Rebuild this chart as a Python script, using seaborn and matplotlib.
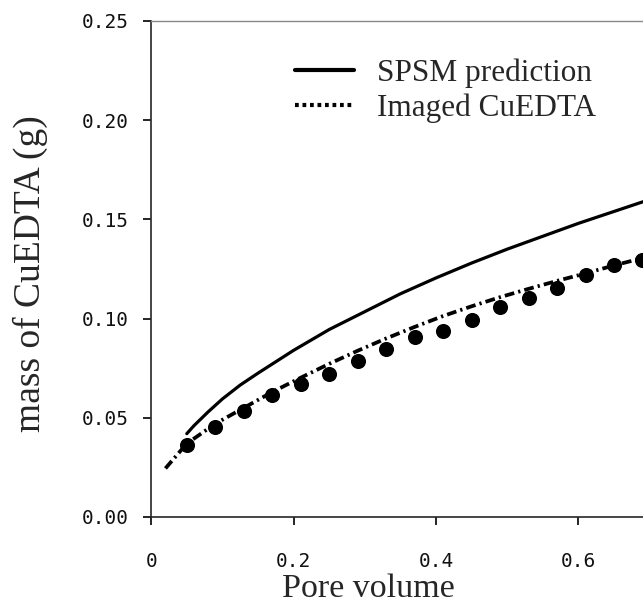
import matplotlib
matplotlib.use("Agg")
import matplotlib.pyplot as plt
import seaborn as sns
import pandas as pd

# ---- data ----
spsm_x = [0.05, 0.06, 0.08, 0.10, 0.125, 0.15, 0.20, 0.25, 0.30, 0.35, 0.40, 0.45, 0.50, 0.55, 0.60, 0.65, 0.70]
spsm_y = [0.042, 0.046, 0.053, 0.0595, 0.0665, 0.0725, 0.0840, 0.0945, 0.1035, 0.1125, 0.1205, 0.128, 0.1350, 0.1415, 0.148, 0.1540, 0.160]

imaged_x = [0.02, 0.05, 0.09, 0.13, 0.17, 0.21, 0.25, 0.29, 0.33, 0.37, 0.41, 0.45, 0.49, 0.53, 0.57, 0.61, 0.65, 0.69]
imaged_y = [0.0245, 0.037, 0.047, 0.055, 0.0630, 0.0702, 0.0772, 0.0838, 0.0900, 0.0958, 0.1013, 0.1062, 0.1108, 0.1150, 0.1190, 0.1228, 0.1268, 0.1305]

meas_x = [0.05, 0.09, 0.13, 0.17, 0.21, 0.25, 0.29, 0.33, 0.37, 0.41, 0.45, 0.49, 0.53, 0.57, 0.61, 0.65, 0.69]
meas_y = [0.0363, 0.0455, 0.0535, 0.0614, 0.0668, 0.0723, 0.0787, 0.0846, 0.0905, 0.0938, 0.0995, 0.1056, 0.1106, 0.1155, 0.1219, 0.1269, 0.1297]

x_ticks = [0, 0.2, 0.4, 0.6]
x_ticklabels = ["0", "0.2", "0.4", "0.6"]
y_ticks = [0.00, 0.05, 0.10, 0.15, 0.20, 0.25]
y_ticklabels = ["0.00", "0.05", "0.10", "0.15", "0.20", "0.25"]

sns.set_style("ticks")
plt.rcParams["font.family"] = ["DejaVu Sans"]

fig = plt.figure(figsize=(6.43, 6.08), dpi=100)
left = 151.2 / 643
bottom = 1 - 517 / 608
top = 1 - 21 / 608
ax = fig.add_axes([left, bottom, 1 - left, top - bottom])

df_spsm = pd.DataFrame({"x": spsm_x, "y": spsm_y})
df_img = pd.DataFrame({"x": imaged_x, "y": imaged_y})
df_meas = pd.DataFrame({"x": meas_x, "y": meas_y})

sns.lineplot(data=df_spsm, x="x", y="y", ax=ax, color="black", linewidth=2.3,
             label="SPSM prediction", sort=False)
sns.lineplot(data=df_img, x="x", y="y", ax=ax, color="black", linewidth=2.7,
             linestyle=(0, (2.6, 1.1, 0.6, 1.1)), sort=False, legend=False)
sns.scatterplot(data=df_meas, x="x", y="y", ax=ax, color="black", s=118,
                edgecolor="black", linewidth=0, legend=False, zorder=5)
# legend proxy for the dotted entry
ax.plot([], [], color="black", linestyle=(0, (0.9, 0.9)), linewidth=2.4, label="Imaged CuEDTA")

ax.set_xlim(0, (643 - 151.2) / 712)
ax.set_ylim(0, 0.25)
ax.set_xticks(x_ticks)
ax.set_xticklabels(x_ticklabels)
ax.set_yticks(y_ticks)
ax.set_yticklabels(y_ticklabels)

ax.tick_params(axis="x", direction="out", length=6, width=1.2, pad=19, colors="black")
ax.tick_params(axis="y", direction="out", length=6, width=1.2, pad=10, colors="black")
for lab in ax.get_xticklabels() + ax.get_yticklabels():
    lab.set_fontfamily("DejaVu Sans Mono")
    lab.set_fontsize(14)
    lab.set_color("#111111")

ax.spines["right"].set_visible(False)
ax.spines["top"].set_color("#888888")
ax.spines["top"].set_linewidth(1.0)
ax.spines["left"].set_linewidth(1.2)
ax.spines["bottom"].set_linewidth(1.2)

ax.set_xlabel("Pore volume", fontfamily="Liberation Serif", fontsize=24.5)
ax.set_ylabel("mass of CuEDTA (g)", fontfamily="Liberation Serif", fontsize=27)
ax.xaxis.set_label_coords(0.441, -0.113)
ax.yaxis.set_label_coords(-0.21, 0.49)

leg = ax.legend(loc="upper left", bbox_to_anchor=(0.292, 0.925), frameon=False,
                borderaxespad=0, borderpad=0, handlelength=1.9, handletextpad=0.72,
                labelspacing=0.18, prop={"family": "Liberation Serif", "size": 22.5})
for h in leg.get_lines():
    h.set_linewidth(3.0)

fig.savefig("out.png", dpi=100)
